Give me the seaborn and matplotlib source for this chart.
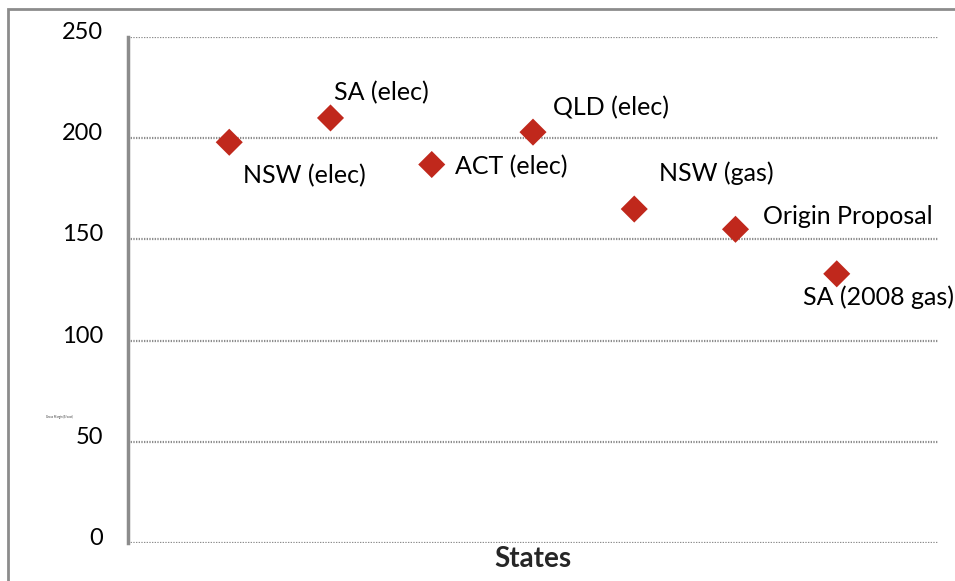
import matplotlib
matplotlib.use("Agg")
import matplotlib.pyplot as plt
import seaborn as sns
import pandas as pd
from matplotlib.patches import Rectangle
from matplotlib.transforms import ScaledTranslation

# Gross margins by jurisdiction
labels = ["NSW (elec)", "SA (elec)", "ACT (elec)", "QLD (elec)",
          "NSW (gas)", "Origin Proposal", "SA (2008 gas)"]
margins = [198, 210, 187, 203, 165, 155, 133]
yticks = [0, 50, 100, 150, 200, 250]

# label placement offsets (pixels) relative to each marker
label_offsets = [(14, -33), (3, 25), (23, -2), (20, 24), (25, 36), (27, 13), (-34, -23)]

df = pd.DataFrame({"pos": range(1, len(labels) + 1), "margin": margins, "label": labels})

sns.set_theme(style="white")
plt.rcParams["font.family"] = ["Lato", "DejaVu Sans"]

fig = plt.figure(figsize=(9.55, 5.81), dpi=100)
ax = fig.add_axes([128 / 955, 1 - 543 / 581, 810 / 955, 506 / 581])

sns.scatterplot(data=df, x="pos", y="margin", marker="D", s=190,
                color="#C0281C", edgecolor="none", ax=ax, zorder=3)

ax.set_xlim(0, 8)
ax.set_ylim(0, 250)
ax.set_yticks(yticks)
ax.set_yticklabels([str(t) for t in yticks], fontsize=17, color="black")
ax.set_xticks([])
ax.tick_params(axis="y", length=0, pad=18)
lift = ScaledTranslation(0, 0.065, fig.dpi_scale_trans)
for tl in ax.get_yticklabels():
    tl.set_transform(tl.get_transform() + lift)

for t in yticks:
    ax.axhline(t, color="#8c8c8c", lw=1.6, ls=(0, (0.6, 0.6)), zorder=1)

for s in ["top", "right", "bottom"]:
    ax.spines[s].set_visible(False)
ax.spines["left"].set_color("#8c8c8c")
ax.spines["left"].set_linewidth(2.5)

ax.set_xlabel("States", fontsize=20, fontweight="bold", labelpad=2)
ax.set_ylabel("")

for (x, y, lab), (dx, dy) in zip(zip(df["pos"], df["margin"], df["label"]), label_offsets):
    ax.annotate(lab, (x, y), xytext=(dx * 0.72, dy * 0.72), textcoords="offset points",
                fontsize=18, ha="left", va="center", color="black", clip_on=False)

fig.text(46 / 955, 1 - 418 / 581, "Gross Margin ($/cust)", fontsize=2, color="#333333")

# outer frame around the chart area
fig.patches.append(Rectangle((8 / 955, -0.1), 1.2, 1 - 9 / 581 + 0.1,
                             transform=fig.transFigure, fill=False,
                             edgecolor="#8c8c8c", lw=2))

fig.savefig("out.png", dpi=100)
